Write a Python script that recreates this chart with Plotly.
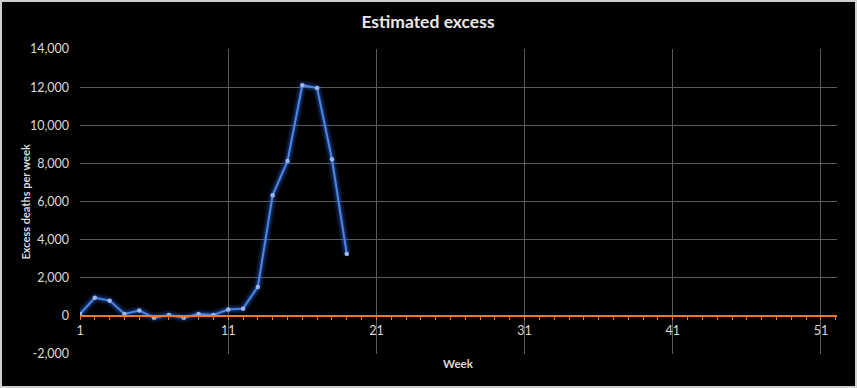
import plotly.graph_objects as go

weeks = list(range(1, 20))
excess = [100, 950, 800, 100, 280, -100, 50, -100, 100, 50,
          330, 380, 1520, 6330, 8120, 12100, 11950, 8220, 3250]

y_ticks = [-2000, 0, 2000, 4000, 6000, 8000, 10000, 12000, 14000]
x_ticks = [1, 11, 21, 31, 41, 51]

W, H = 857, 388
L, R, T, B = 80, 20, 49, 34
pw, ph = W - L - R, H - T - B

fig = go.Figure()
# glow
fig.add_trace(go.Scatter(x=weeks, y=excess, mode="lines",
                         line=dict(color="rgba(40,100,230,0.18)", width=9),
                         hoverinfo="skip", showlegend=False))
fig.add_trace(go.Scatter(x=weeks, y=excess, mode="lines",
                         line=dict(color="rgba(40,100,230,0.30)", width=5),
                         hoverinfo="skip", showlegend=False))
fig.add_trace(go.Scatter(x=weeks, y=excess, mode="lines+markers",
                         line=dict(color="#4f86e0", width=2),
                         marker=dict(size=4.5, color="#9db5e8"),
                         showlegend=False))

txt = "#d9d9d9"
fig.update_layout(
    width=W, height=H,
    margin=dict(l=L, r=R, t=T, b=B),
    paper_bgcolor="black", plot_bgcolor="black",
    font=dict(family="Lato, Open Sans, sans-serif", color=txt, size=12),
    title=dict(text="<b>Estimated excess</b>", x=428 / W,
               xanchor="center", y=1 - 22 / H, yanchor="middle",
               font=dict(size=17.5, color="#e8e8e8", family="Lato, Open Sans, sans-serif")),
    xaxis=dict(range=[1, 52.08], tickmode="array", tickvals=x_ticks,
               ticktext=[str(v) for v in x_ticks],
               showgrid=True, gridcolor="#5a5a5a", gridwidth=1,
               zeroline=False, showline=True, linecolor="#f07828", linewidth=1.5,
               anchor="free", position=2000 / 16000,
               ticks="outside", ticklen=3, tickcolor="#f07828",
               minor=dict(dtick=1, tick0=1, ticks="outside", ticklen=3,
                          tickcolor="#f07828", showgrid=False),
               tickfont=dict(size=12.5, color=txt), ticklabelstandoff=0),
    yaxis=dict(range=[-2000, 14000], tickmode="array", tickvals=y_ticks,
               ticktext=[f"{v:,}" for v in y_ticks],
               showgrid=True, gridcolor="#5a5a5a", gridwidth=1,
               zeroline=False, showline=False, ticks="",
               tickfont=dict(size=12.5, color=txt), ticklabelstandoff=10),
)

# axis titles as annotations
fig.add_annotation(text="<b>Week</b>", xref="paper", yref="paper",
                   x=(458 - L) / pw, y=-(363 - (T + ph)) / ph,
                   showarrow=False, font=dict(size=11.5, color=txt),
                   xanchor="center", yanchor="middle")
fig.add_annotation(text="<b>Excess deaths per week</b>", xref="paper", yref="paper",
                   x=(25 - L) / pw, y=0.5, textangle=-90,
                   showarrow=False, font=dict(size=11, color=txt),
                   xanchor="center", yanchor="middle")

# outer border
fig.add_shape(type="rect", xref="paper", yref="paper",
              x0=(1 - L) / pw, x1=(W - 1 - L) / pw,
              y0=-(H - 1 - T - ph) / ph, y1=1 + (T - 1) / ph,
              line=dict(color="#d0d0d0", width=2), layer="below")

fig.write_html("out.html", config={"displayModeBar": False},
               post_script="document.body.style.margin='0';document.body.style.overflow='hidden';")
